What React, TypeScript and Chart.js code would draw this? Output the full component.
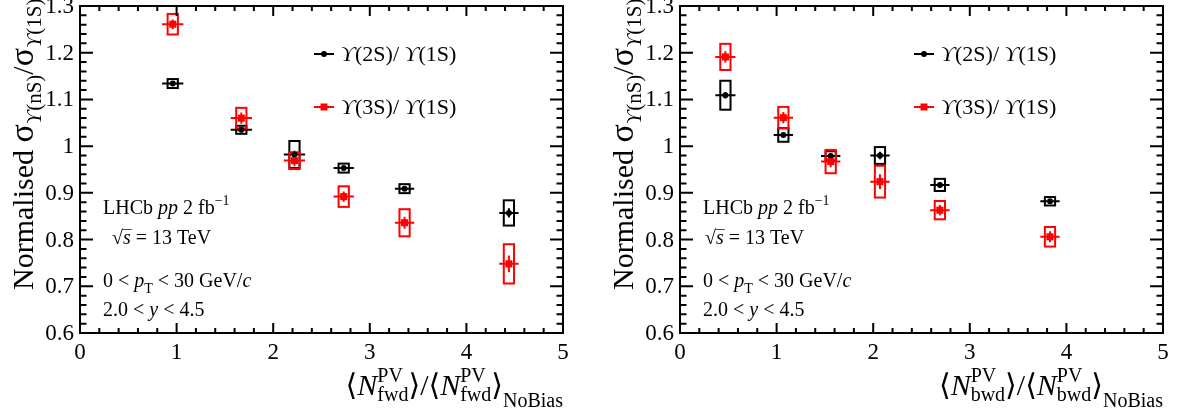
import { useEffect, useRef } from "react";
import { Chart, registerables } from "chart.js";
Chart.register(...registerables);

// ---------- data ----------
const fwdX = [0.96, 1.67, 2.22, 2.73, 3.36, 4.44];
const fwdXErr = [0.11, 0.11, 0.11, 0.105, 0.1, 0.1];
const fwd2S = [1.134, 1.035, 0.982, 0.953, 0.909, 0.857];
const fwd2SStat = [0.004, 0.006, 0.008, 0.005, 0.005, 0.01];
const fwd2SSyst = [0.0096, 0.0086, 0.029, 0.0096, 0.0096, 0.027];
const fwd3S = [1.261, 1.06, 0.969, 0.892, 0.836, 0.748];
const fwd3SStat = [0.01, 0.012, 0.012, 0.011, 0.013, 0.018];
const fwd3SSyst = [0.022, 0.022, 0.018, 0.022, 0.029, 0.042];

const bwdX = [0.47, 1.07, 1.56, 2.07, 2.69, 3.83];
const bwdXErr = [0.104, 0.1, 0.1, 0.1, 0.1, 0.1];
const bwd2S = [1.109, 1.024, 0.979, 0.98, 0.917, 0.882];
const bwd2SStat = [0.007, 0.005, 0.006, 0.008, 0.006, 0.005];
const bwd2SSyst = [0.031, 0.0146, 0.01, 0.018, 0.013, 0.009];
const bwd3S = [1.191, 1.061, 0.967, 0.924, 0.863, 0.806];
const bwd3SStat = [0.012, 0.012, 0.012, 0.016, 0.011, 0.012];
const bwd3SSyst = [0.028, 0.023, 0.025, 0.034, 0.0196, 0.021];

const boxHalfWidth = 0.053;

const xTickValues = [0, 1, 2, 3, 4, 5];
const xTickLabels = ["0", "1", "2", "3", "4", "5"];
const yTickValues = [0.6, 0.7, 0.8, 0.9, 1.0, 1.1, 1.2, 1.3];
const yTickLabels = ["0.6", "0.7", "0.8", "0.9", "1", "1.1", "1.2", "1.3"];
const legendLabels = ["ϒ(2S)/ ϒ(1S)", "ϒ(3S)/ ϒ(1S)"];

const BLACK = "#000000";
const RED = "#ff0000";
const TIMES = '"Liberation Serif", "DejaVu Serif", "Times New Roman", serif';

type Seg = { t: string; size: number; it?: boolean; dy?: number; stack?: Seg[] };

function fnt(size: number, it?: boolean) {
  return `${it ? "italic " : ""}${size}px ${TIMES}`;
}
function measure(ctx: CanvasRenderingContext2D, s: Seg): number {
  if (s.stack) return Math.max(...s.stack.map((q) => measure(ctx, q)));
  ctx.font = fnt(s.size, s.it);
  return ctx.measureText(s.t).width;
}
function totalW(ctx: CanvasRenderingContext2D, segs: Seg[]) {
  return segs.reduce((a, s) => a + measure(ctx, s), 0);
}
function drawOne(ctx: CanvasRenderingContext2D, s: Seg, x: number, y: number) {
  ctx.font = fnt(s.size, s.it);
  ctx.fillText(s.t, x, y + (s.dy || 0));
}
function drawSegs(ctx: CanvasRenderingContext2D, segs: Seg[], x: number, y: number) {
  let cx = x;
  for (const s of segs) {
    if (s.stack) s.stack.forEach((q) => drawOne(ctx, q, cx, y));
    else drawOne(ctx, s, cx, y);
    cx += measure(ctx, s);
  }
}
function upsSegs(label: string, size: number, dy = 0): Seg[] {
  const out: Seg[] = [];
  for (const part of label.split(/(ϒ)/)) {
    if (!part) continue;
    out.push({ t: part, size, it: part === "ϒ", dy });
  }
  return out;
}

type PanelCfg = {
  xs: number[];
  xErr: number[];
  s2: number[];
  s2Stat: number[];
  s2Syst: number[];
  s3: number[];
  s3Stat: number[];
  s3Syst: number[];
  dir: string;
  width: number;
  plotLeft: number;
  plotRight: number;
  sqrtOffset: number;
};

function makePlugin(cfg: PanelCfg) {
  return {
    id: "rootStyle",
    beforeDatasetsDraw(chart: any) {
      const ctx: CanvasRenderingContext2D = chart.ctx;
      const xs = chart.scales.x;
      const ys = chart.scales.y;
      const series = [
        { y: cfg.s2, stat: cfg.s2Stat, syst: cfg.s2Syst, color: BLACK },
        { y: cfg.s3, stat: cfg.s3Stat, syst: cfg.s3Syst, color: RED },
      ];
      ctx.save();
      for (const s of series) {
        ctx.strokeStyle = s.color;
        ctx.lineWidth = 2;
        cfg.xs.forEach((xv, i) => {
          const yv = s.y[i];
          const x0 = xs.getPixelForValue(xv - boxHalfWidth);
          const x1 = xs.getPixelForValue(xv + boxHalfWidth);
          const y0 = ys.getPixelForValue(yv + s.syst[i]);
          const y1 = ys.getPixelForValue(yv - s.syst[i]);
          ctx.strokeRect(x0, y0, x1 - x0, y1 - y0);
          const px = xs.getPixelForValue(xv);
          const py = ys.getPixelForValue(yv);
          ctx.beginPath();
          ctx.moveTo(xs.getPixelForValue(xv - cfg.xErr[i]), py);
          ctx.lineTo(xs.getPixelForValue(xv + cfg.xErr[i]), py);
          ctx.moveTo(px, ys.getPixelForValue(yv + s.stat[i]));
          ctx.lineTo(px, ys.getPixelForValue(yv - s.stat[i]));
          ctx.stroke();
        });
      }
      ctx.restore();
    },
    afterDraw(chart: any) {
      const ctx: CanvasRenderingContext2D = chart.ctx;
      const ca = chart.chartArea;
      const xs = chart.scales.x;
      const ys = chart.scales.y;
      ctx.save();
      ctx.strokeStyle = BLACK;
      ctx.fillStyle = BLACK;
      ctx.lineWidth = 2;
      // frame
      ctx.strokeRect(ca.left, ca.top, ca.right - ca.left, ca.bottom - ca.top);
      // ticks
      ctx.beginPath();
      for (let v = 0; v <= 5.0001; v += 0.2) {
        const major = Math.abs(v - Math.round(v)) < 1e-6;
        const len = major ? 10 : 5;
        const px = xs.getPixelForValue(v);
        ctx.moveTo(px, ca.bottom);
        ctx.lineTo(px, ca.bottom - len);
        ctx.moveTo(px, ca.top);
        ctx.lineTo(px, ca.top + len);
      }
      for (let k = 0; k <= 35; k++) {
        const v = 0.6 + k * 0.02;
        const major = k % 5 === 0;
        const len = major ? 13 : 6.5;
        const py = ys.getPixelForValue(v);
        ctx.moveTo(ca.left, py);
        ctx.lineTo(ca.left + len, py);
        ctx.moveTo(ca.right, py);
        ctx.lineTo(ca.right - len, py);
      }
      ctx.stroke();
      // tick labels
      ctx.font = fnt(23);
      ctx.textAlign = "right";
      ctx.textBaseline = "middle";
      yTickValues.forEach((v, i) => {
        ctx.fillText(yTickLabels[i], ca.left - 6, ys.getPixelForValue(v) + 1);
      });
      ctx.textAlign = "center";
      ctx.textBaseline = "alphabetic";
      xTickValues.forEach((v, i) => {
        ctx.fillText(xTickLabels[i], xs.getPixelForValue(v), ca.bottom + 26);
      });
      ctx.textAlign = "left";

      // x title
      const d = cfg.dir;
      const xt: Seg[] = [
        { t: "⟨", size: 30 },
        { t: "N", size: 30, it: true },
        { t: "", size: 20, stack: [{ t: "PV", size: 20, dy: -13 }, { t: d, size: 20, dy: 6 }] },
        { t: "⟩", size: 30 },
        { t: "/", size: 30 },
        { t: "⟨", size: 30 },
        { t: "N", size: 30, it: true },
        { t: "", size: 20, stack: [{ t: "PV", size: 20, dy: -13 }, { t: d, size: 20, dy: 6 }] },
        { t: "⟩", size: 30 },
        { t: "NoBias", size: 20, dy: 12 },
      ];
      const xw = totalW(ctx, xt);
      drawSegs(ctx, xt, ca.right - xw, 395);

      // y title (rotated)
      const yt: Seg[] = [
        { t: "Normalised ", size: 30 },
        { t: "σ", size: 34 },
        ...upsSegs("ϒ(nS)", 21, 8),
        { t: "/", size: 30 },
        { t: "σ", size: 34 },
        ...upsSegs("ϒ(1S)", 21, 8),
      ];
      ctx.save();
      ctx.translate(ca.left - 47, 290);
      ctx.rotate(-Math.PI / 2);
      drawSegs(ctx, yt, 0, 0);
      ctx.restore();

      // legend
      const lx = ca.left + 234;
      const legendY = [54, 107];
      [BLACK, RED].forEach((c, i) => {
        const y = legendY[i];
        ctx.strokeStyle = c;
        ctx.fillStyle = c;
        ctx.lineWidth = 2;
        ctx.beginPath();
        ctx.moveTo(lx, y);
        ctx.lineTo(lx + 20, y);
        ctx.stroke();
        if (i === 0) {
          ctx.beginPath();
          ctx.arc(lx + 10, y, 3, 0, Math.PI * 2);
          ctx.fill();
        } else {
          ctx.fillRect(lx + 10 - 3.5, y - 3.5, 7, 7);
        }
        ctx.fillStyle = BLACK;
        drawSegs(ctx, upsSegs(legendLabels[i], 22), lx + 27, y + 7);
      });

      // annotations
      const ax = ca.left + 23;
      ctx.fillStyle = BLACK;
      drawSegs(
        ctx,
        [
          { t: "LHCb ", size: 20 },
          { t: "pp", size: 20, it: true },
          { t: " 2 fb", size: 20 },
          { t: "−1", size: 14, dy: -9 },
        ],
        ax,
        214
      );
      const sx = ca.left + cfg.sqrtOffset;
      drawSegs(
        ctx,
        [
          { t: "√", size: 20 },
          { t: "s", size: 20, it: true },
          { t: " = 13 TeV", size: 20 },
        ],
        sx,
        244
      );
      // overline of the root
      ctx.font = fnt(20);
      const rw = ctx.measureText("√").width;
      ctx.font = fnt(20, true);
      const sw = ctx.measureText("s").width;
      ctx.lineWidth = 1;
      ctx.beginPath();
      ctx.moveTo(sx + rw - 1, 229.5);
      ctx.lineTo(sx + rw + sw + 1, 229.5);
      ctx.stroke();
      drawSegs(
        ctx,
        [
          { t: "0 < ", size: 20 },
          { t: "p", size: 20, it: true },
          { t: "T", size: 14, dy: 6 },
          { t: " < 30 GeV/", size: 20 },
          { t: "c", size: 20, it: true },
        ],
        ax,
        287
      );
      drawSegs(
        ctx,
        [
          { t: "2.0 < ", size: 20 },
          { t: "y", size: 20, it: true },
          { t: " < 4.5", size: 20 },
        ],
        ax,
        316
      );
      ctx.restore();
    },
  };
}

function Panel({ cfg }: { cfg: PanelCfg }) {
  const ref = useRef<HTMLCanvasElement>(null);
  useEffect(() => {
    const chart = new Chart(ref.current as HTMLCanvasElement, {
      type: "scatter",
      data: {
        datasets: [
          {
            label: legendLabels[0],
            data: cfg.xs.map((x, i) => ({ x, y: cfg.s2[i] })),
            pointStyle: "circle",
            pointRadius: 3,
            backgroundColor: BLACK,
            borderColor: BLACK,
            borderWidth: 0,
            order: 1,
          },
          {
            label: legendLabels[1],
            data: cfg.xs.map((x, i) => ({ x, y: cfg.s3[i] })),
            pointStyle: "rect",
            pointRadius: 5,
            backgroundColor: RED,
            borderColor: RED,
            borderWidth: 0,
            order: 0,
          },
        ],
      } as any,
      options: {
        animation: false,
        responsive: false,
        maintainAspectRatio: false,
        events: [],
        layout: { padding: { left: 0, top: 6, right: cfg.width - cfg.plotRight, bottom: 0 } },
        plugins: { legend: { display: false }, tooltip: { enabled: false } },
        scales: {
          x: {
            type: "linear",
            min: 0,
            max: 5,
            grid: { display: false },
            border: { display: false },
            ticks: { display: false },
            afterFit: (s: any) => {
              s.height = 81;
            },
          },
          y: {
            type: "linear",
            min: 0.6,
            max: 1.3,
            grid: { display: false },
            border: { display: false },
            ticks: { display: false },
            afterFit: (s: any) => {
              s.width = cfg.plotLeft;
            },
          },
        },
      } as any,
      plugins: [makePlugin(cfg)],
    });
    return () => chart.destroy();
  }, []);
  return (
    <canvas
      ref={ref}
      width={cfg.width}
      height={414}
      style={{ display: "block", width: cfg.width, height: 414 }}
    />
  );
}

const leftCfg: PanelCfg = {
  xs: fwdX,
  xErr: fwdXErr,
  s2: fwd2S,
  s2Stat: fwd2SStat,
  s2Syst: fwd2SSyst,
  s3: fwd3S,
  s3Stat: fwd3SStat,
  s3Syst: fwd3SSyst,
  dir: "fwd",
  width: 590,
  plotLeft: 80,
  plotRight: 563,
  sqrtOffset: 32,
};
const rightCfg: PanelCfg = {
  xs: bwdX,
  xErr: bwdXErr,
  s2: bwd2S,
  s2Stat: bwd2SStat,
  s2Syst: bwd2SSyst,
  s3: bwd3S,
  s3Stat: bwd3SStat,
  s3Syst: bwd3SSyst,
  dir: "bwd",
  width: 588,
  plotLeft: 90,
  plotRight: 573,
  sqrtOffset: 25,
};

export default function App() {
  return (
    <div
      style={{
        position: "absolute",
        left: 0,
        top: 0,
        width: 1178,
        height: 414,
        display: "flex",
        background: "#fff",
      }}
    >
      <Panel cfg={leftCfg} />
      <Panel cfg={rightCfg} />
    </div>
  );
}
